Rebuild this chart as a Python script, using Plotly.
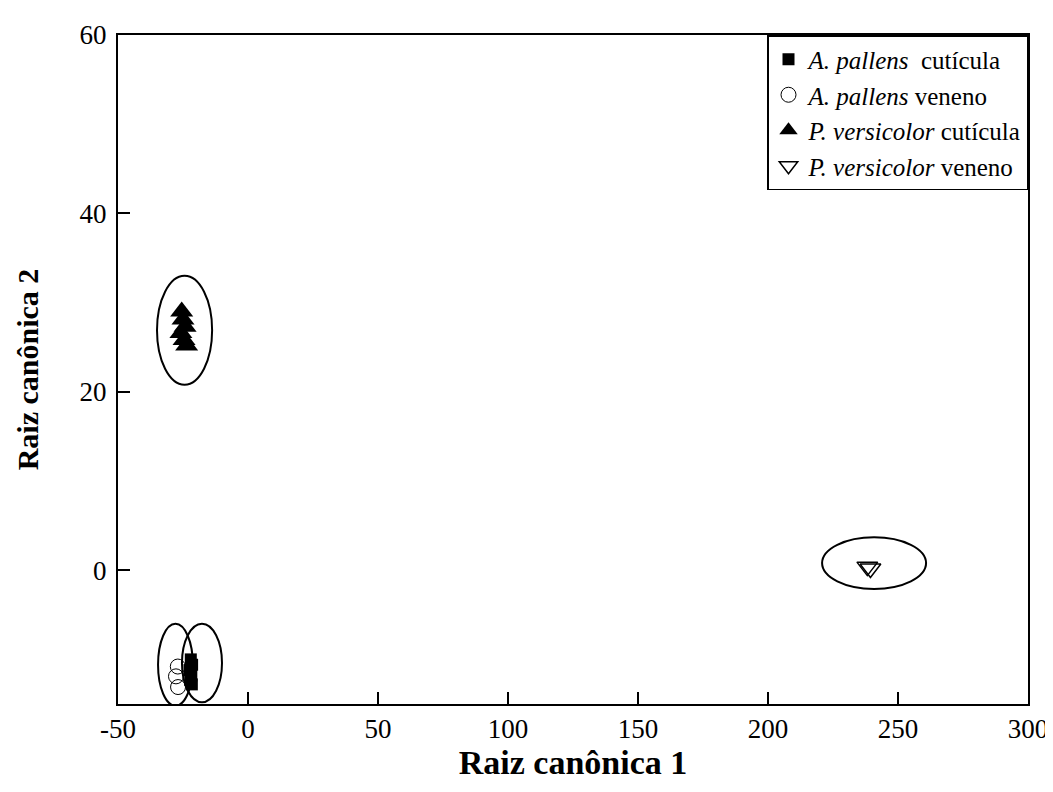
import plotly.graph_objects as go

# Data
ap_cut_x = [-22.0, -21.5, -22.5, -21.8, -22.2, -21.6]
ap_cut_y = [-10.0, -10.6, -11.2, -11.8, -12.3, -12.8]

ap_ven_x = [-27.0, -27.7, -26.9]
ap_ven_y = [-10.8, -11.9, -13.1]

pv_cut_x = [-25.5, -25.0, -24.2, -25.8, -24.6, -23.6]
pv_cut_y = [29.0, 28.1, 27.3, 26.6, 25.8, 25.2]

pv_ven_x = [238.2, 239.4]
pv_ven_y = [0.4, 0.2]

# Confidence ellipses: center x, center y, half width, half height
ell_cx = [-17.7, -27.9, -24.4, 240.8]
ell_cy = [-10.4, -10.6, 26.9, 0.8]
ell_rx = [7.7, 6.7, 10.6, 20.0]
ell_ry = [4.4, 4.6, 6.1, 2.9]

x_ticks = [-50, 0, 50, 100, 150, 200, 250, 300]
x_tick_text = ["-50", "0", "50", "100", "150", "200", "250", "300"]
y_ticks = [0, 20, 40, 60]
y_tick_text = ["0", "20", "40", "60"]

FONT = "Liberation Serif"

fig = go.Figure()
fig.add_trace(go.Scatter(x=ap_cut_x, y=ap_cut_y, mode="markers",
                         name="<i>A. pallens</i>  cutícula",
                         marker=dict(symbol="square", size=12, color="black")))
fig.add_trace(go.Scatter(x=ap_ven_x, y=ap_ven_y, mode="markers",
                         name="<i>A. pallens</i> veneno",
                         marker=dict(symbol="circle-open", size=15, color="black",
                                     line=dict(width=1))))
fig.add_trace(go.Scatter(x=pv_cut_x, y=pv_cut_y, mode="markers",
                         name="<i>P. versicolor</i> cutícula",
                         marker=dict(symbol="triangle-up", size=20, color="black")))
fig.add_trace(go.Scatter(x=pv_ven_x, y=pv_ven_y, mode="markers",
                         name="<i>P. versicolor</i> veneno",
                         marker=dict(symbol="triangle-down-open", size=18, color="black",
                                     line=dict(width=1.5))))

for cx, cy, rx, ry in zip(ell_cx, ell_cy, ell_rx, ell_ry):
    fig.add_shape(type="circle", xref="x", yref="y",
                  x0=cx - rx, x1=cx + rx, y0=cy - ry, y1=cy + ry,
                  line=dict(color="black", width=2))

fig.update_layout(
    width=1053, height=792,
    margin=dict(l=110, r=33, t=21, b=96),
    paper_bgcolor="white", plot_bgcolor="white",
    font=dict(family=FONT, color="black", size=26),
    showlegend=True,
    legend=dict(x=1, y=1, xanchor="right", yanchor="top",
                bgcolor="white", bordercolor="black", borderwidth=1.5,
                font=dict(family=FONT, size=25, color="black"),
                itemsizing="trace", tracegroupgap=0,
                itemwidth=30),
)
fig.update_xaxes(range=[-50, 300], tickvals=x_ticks, ticktext=x_tick_text,
                 ticks="inside", ticklen=12,
                 tickwidth=2, tickcolor="black", showline=True, linecolor="black",
                 linewidth=2, mirror=True, showgrid=False, zeroline=False,
                 tickfont=dict(family=FONT, size=27),
                 title=dict(text="<b>Raiz canônica 1</b>", font=dict(family=FONT, size=34),
                            standoff=4))
fig.update_yaxes(range=[-15, 60], tickvals=y_ticks, ticktext=y_tick_text,
                 ticks="inside", ticklen=12,
                 tickwidth=2, tickcolor="black", showline=True, linecolor="black",
                 linewidth=2, mirror=True, showgrid=False, zeroline=False,
                 tickfont=dict(family=FONT, size=27), ticklabelstandoff=4,
                 title=dict(text="<b>Raiz canônica 2</b>", font=dict(family=FONT, size=30),
                            standoff=32))

fig.write_html("out.html")
